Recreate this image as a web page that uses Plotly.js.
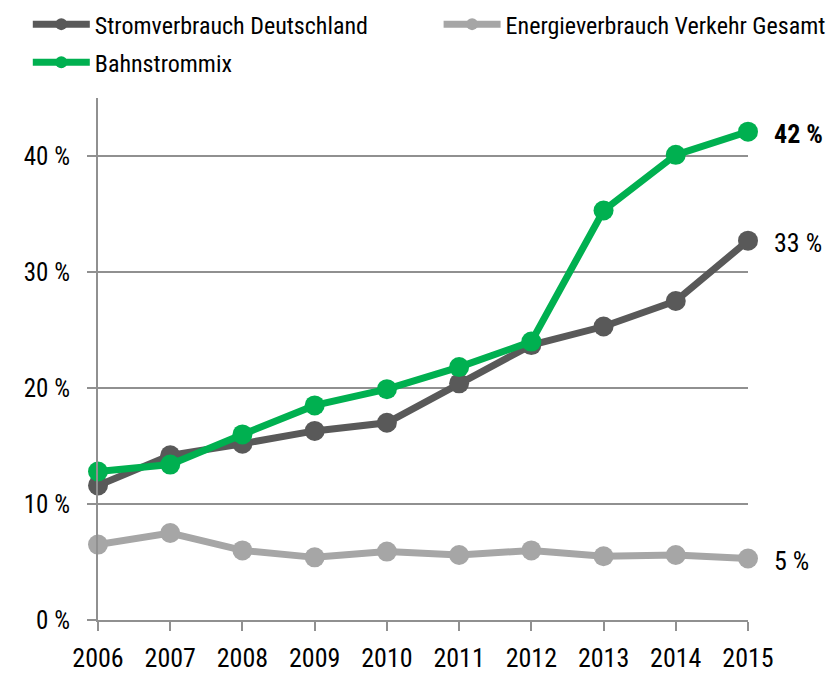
<!DOCTYPE html>
<html>
<head>
<meta charset="utf-8">
<script src="https://cdn.plot.ly/plotly-3.0.1.min.js"></script>
<style>html,body{margin:0;padding:0;background:#fff;}#chart{width:833px;height:676px;}</style>
</head>
<body>
<div id="chart"></div>
<script>
const years = [2006, 2007, 2008, 2009, 2010, 2011, 2012, 2013, 2014, 2015];
const stromverbrauch = [11.6, 14.2, 15.2, 16.3, 17.0, 20.4, 23.7, 25.3, 27.5, 32.7];
const energieverkehr = [6.5, 7.5, 6.0, 5.4, 5.9, 5.6, 6.0, 5.5, 5.6, 5.3];
const bahnstrommix = [12.8, 13.4, 16.0, 18.5, 19.9, 21.8, 24.0, 35.3, 40.1, 42.1];
const seriesNames = ["Stromverbrauch Deutschland", "Energieverbrauch Verkehr Gesamt", "Bahnstrommix"];
const endLabels = ["33 %", "5 %", "42 %"];
const yTickVals = [0, 10, 20, 30, 40];
const yTickText = ["0 %", "10 %", "20 %", "30 %", "40 %"];

const FONT = "'Roboto Condensed', 'Liberation Sans Narrow', 'Arial Narrow', 'DejaVu Sans Condensed', sans-serif";
const colors = ["#595959", "#a6a6a6", "#00b050"];
const dataSets = [stromverbrauch, energieverkehr, bahnstrommix];
const legendIds = ["legend", "legend2", "legend"];

const traces = [];
[1, 0, 2].forEach(i => {
  traces.push({
    x: years, y: dataSets[i], type: 'scatter', mode: 'lines+markers',
    line: {color: colors[i], width: 7}, marker: {color: colors[i], size: 20},
    showlegend: false, cliponaxis: false, hoverinfo: 'skip'
  });
});
[0, 1, 2].forEach(i => {
  traces.push({
    x: [null], y: [null], type: 'scatter', mode: 'lines+markers', name: seriesNames[i],
    line: {color: colors[i], width: 7}, marker: {color: colors[i], size: 12},
    showlegend: true, legend: legendIds[i], legendgroup: 'g' + i
  });
});

const annotations = [0, 1, 2].map(i => ({
  x: years[years.length - 1], y: dataSets[i][dataSets[i].length - 1],
  xref: 'x', yref: 'y', text: endLabels[i], showarrow: false,
  xanchor: 'left', xshift: 24, yshift: -2,
  font: {family: FONT, size: 26, color: '#000', weight: i === 2 ? 'bold' : 'normal'}
}));

const legendBase = {
  orientation: 'v', xref: 'paper', yref: 'container', yanchor: 'top', xanchor: 'left',
  font: {family: FONT, size: 24, color: '#000'}, tracegroupgap: 4,
  bgcolor: 'rgba(0,0,0,0)', itemwidth: 57, traceorder: 'grouped'
};

const layout = {
  width: 833, height: 676,
  margin: {l: 98, r: 85, t: 98, b: 56, pad: 0, autoexpand: false},
  paper_bgcolor: '#fff', plot_bgcolor: '#fff',
  font: {family: FONT, size: 24, color: '#000'},
  showlegend: true,
  legend: Object.assign({}, legendBase, {x: -0.108, y: 0.997}),
  legend2: Object.assign({}, legendBase, {x: 0.524, y: 0.997}),
  xaxis: {
    range: [2006, 2015], tickvals: years, ticktext: years.map(String),
    showgrid: false, zeroline: false, showline: true, linecolor: '#909090', linewidth: 2,
    ticks: 'outside', ticklen: 9, tickwidth: 2, tickcolor: '#909090',
    tickfont: {family: FONT, size: 26, color: '#000'}, ticklabelstandoff: 5,
    fixedrange: true
  },
  yaxis: {
    range: [0, 45], tickvals: yTickVals, ticktext: yTickText,
    showgrid: true, gridcolor: '#909090', gridwidth: 2, zeroline: false,
    showline: true, linecolor: '#909090', linewidth: 2,
    ticks: 'outside', ticklen: 9, tickwidth: 2, tickcolor: '#909090',
    tickfont: {family: FONT, size: 25, color: '#000'}, ticklabelstandoff: 12,
    fixedrange: true
  },
  annotations: annotations
};

Plotly.newPlot('chart', traces, layout, {displayModeBar: false, staticPlot: true});
</script>
</body>
</html>
